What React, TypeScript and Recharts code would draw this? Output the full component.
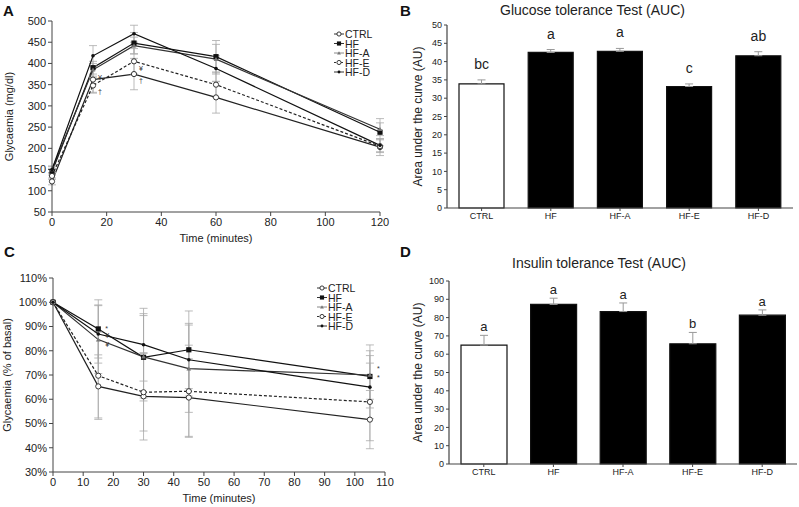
import React from 'react';
import {
  LineChart,
  Line,
  ComposedChart,
  Bar,
  Cell,
  Scatter,
  XAxis,
  YAxis,
  ErrorBar,
  Legend,
} from 'recharts';

const groups = ['CTRL', 'HF', 'HF-A', 'HF-E', 'HF-D'];

// Panel A - glucose tolerance curves (mg/dl)
const gttTimes = [0, 15, 30, 60, 120];
const gttCtrl = [122, 362, 375, 320, 203];
const gttHF = [145, 390, 448, 416, 238];
const gttHFA = [150, 385, 442, 410, 245];
const gttHFE = [135, 348, 405, 350, 205];
const gttHFD = [150, 418, 470, 388, 207];
const gttCtrlErr = [8, 30, 37, 37, 20];
const gttHFErr = [8, 15, 25, 38, 32];
const gttHFAErr = [8, 15, 20, 35, 15];
const gttHFEErr = [8, 18, 30, 30, 15];
const gttHFDErr = [8, 24, 20, 30, 15];
const gttNotes: Record<string, string[]> = {
  CTRL: ['', '¥', '†', '', ''],
  'HF-E': ['', '†', '¥', '', ''],
};

// Panel C - insulin tolerance curves (% of basal)
const ittTimes = [0, 15, 30, 45, 105];
const ittCtrl = [100, 65.3, 61.2, 60.7, 51.6];
const ittHF = [100, 89, 77.3, 80.4, 69.4];
const ittHFA = [100, 84.6, 77.5, 72.6, 70];
const ittHFE = [100, 69.7, 62.9, 63.3, 58.9];
const ittHFD = [100, 86.9, 82.5, 76.3, 65];
const ittCtrlErr = [0, 13, 18, 16, 12];
const ittHFErr = [0, 12, 18, 16, 13];
const ittHFAErr = [0, 14, 17, 18, 10];
const ittHFEErr = [0, 18, 16, 19, 16];
const ittHFDErr = [0, 12, 15, 15, 13];
const ittNotes: Record<string, string[]> = {
  HF: ['', '*', '', '', '*'],
  'HF-D': ['', '¥', '', '', ''],
  'HF-A': ['', '¥', '', '', '*'],
};

// Panels B and D - areas under the curve
const gttAuc = [33.9, 42.5, 42.8, 33.2, 41.6];
const gttAucErr = [1.1, 0.8, 0.8, 0.7, 1.1];
const gttLetters = ['bc', 'a', 'a', 'c', 'ab'];
const ittAuc = [65, 87.2, 83.3, 65.7, 81.3];
const ittAucErr = [5.3, 3.4, 4.7, 6.2, 2.9];
const ittLetters = ['a', 'a', 'a', 'b', 'a'];

const FONT = '"Liberation Sans", Arial, Helvetica, sans-serif';
const AXIS = '#444';
const TXT = '#222';

// vertical nudges (px) of the small significance marks, per series and point
const gttNoteDy: Record<string, number[]> = {
  CTRL: [0, -2, 6, 0, 0],
  'HF-E': [0, 6, 7, 0, 0],
};
const ittNoteDy: Record<string, number[]> = {
  HF: [0, 0, 0, 0, 1],
  'HF-D': [0, 1, 0, 0, 0],
  'HF-A': [0, 5, 0, 0, -7],
};

const seriesStyle: Record<string, { marker: string; dash?: string; color: string }> = {
  CTRL: { marker: 'circle', color: '#222' },
  HF: { marker: 'square', color: '#111' },
  'HF-A': { marker: 'tri', color: '#333' },
  'HF-E': { marker: 'circle', dash: '3 2', color: '#222' },
  'HF-D': { marker: 'dot', color: '#111' },
};

function buildRows(times: number[], values: number[][], errs: number[][]) {
  return times.map((t, i) => {
    const row: any = { t };
    groups.forEach((g, k) => {
      row[g] = values[k][i];
      row[`${g}_err`] = errs[k][i];
    });
    return row;
  });
}

const gttRows = buildRows(
  gttTimes,
  [gttCtrl, gttHF, gttHFA, gttHFE, gttHFD],
  [gttCtrlErr, gttHFErr, gttHFAErr, gttHFEErr, gttHFDErr]
);
const ittRows = buildRows(
  ittTimes,
  [ittCtrl, ittHF, ittHFA, ittHFE, ittHFD],
  [ittCtrlErr, ittHFErr, ittHFAErr, ittHFEErr, ittHFDErr]
);

const aucRows = (vals: number[], errs: number[], letters: string[]) =>
  groups.map((g, i) => ({
    group: g,
    auc: vals[i],
    err: [0, errs[i]],
    top: vals[i] + errs[i],
    letter: letters[i],
  }));

const Marker = ({ cx, cy, kind, s = 1 }: any) => {
  if (cx == null || cy == null) return null;
  if (kind === 'circle')
    return <circle cx={cx} cy={cy} r={2.6 * s} fill="#fff" stroke="#222" strokeWidth={0.9} />;
  if (kind === 'square')
    return <rect x={cx - 2.6 * s} y={cy - 2.6 * s} width={5.2 * s} height={5.2 * s} fill="#111" />;
  if (kind === 'tri')
    return (
      <path
        d={`M${cx - 2.4 * s},${cy + 1.8 * s}L${cx + 2.4 * s},${cy + 1.8 * s}L${cx},${cy - 2.2 * s}Z`}
        fill="#777"
      />
    );
  return <circle cx={cx} cy={cy} r={1.8 * s} fill="#111" />;
};

const LegendList = () => (
  <svg width={72} height={54} style={{ display: 'block', overflow: 'visible' }}>
    {groups.map((g, i) => {
      const st = seriesStyle[g];
      const y = 7 + i * 9.5;
      return (
        <g key={g}>
          <line x1={1} x2={11} y1={y} y2={y} stroke={g === 'HF-A' ? '#888' : '#333'} strokeDasharray={st.dash ? '2 1.5' : undefined} />
          <Marker cx={6} cy={y} kind={st.marker} s={0.8} />
          <text x={12} y={y} dominantBaseline="central" fontSize={10.5} fill={TXT}>
            {g}
          </text>
        </g>
      );
    })}
  </svg>
);

interface TimeCourseProps {
  rows: any[];
  notes: Record<string, string[]>;
  noteDy: Record<string, number[]>;
  noteDx: number;
  width: number;
  height: number;
  margin: { top: number; right: number; bottom: number; left: number };
  yWidth: number;
  xDomain: [number, number];
  xTicks: number[];
  yDomain: [number, number];
  yTicks: number[];
  yFormat?: (v: number) => string;
  yTitle: string;
  titleOffset: number;
  legendPos: { left: number; top: number };
}

const TimeCourse: React.FC<TimeCourseProps> = (props) => {
  const { rows, notes, noteDy } = props;
  return (
    <LineChart width={props.width} height={props.height} data={rows} margin={props.margin}>
      <XAxis
        dataKey="t"
        type="number"
        domain={props.xDomain}
        ticks={props.xTicks}
        interval={0}
        height={30}
        axisLine={{ stroke: AXIS }}
        tickLine={{ stroke: AXIS }}
        tickSize={4}
        tick={{ fontSize: 11, fill: TXT }}
        label={{ value: 'Time (minutes)', position: 'insideBottom', offset: 0, fontSize: 11, fill: TXT }}
      />
      <YAxis
        type="number"
        width={props.yWidth}
        domain={props.yDomain}
        ticks={props.yTicks}
        interval={0}
        tickFormatter={props.yFormat}
        axisLine={{ stroke: AXIS }}
        tickLine={{ stroke: AXIS }}
        tickSize={4}
        tick={{ fontSize: 11, fill: TXT }}
        label={{
          value: props.yTitle,
          angle: -90,
          position: 'insideLeft',
          offset: props.titleOffset,
          fontSize: 11,
          fill: TXT,
          style: { textAnchor: 'middle' },
        }}
      />
      <Legend
        layout="vertical"
        align="center"
        verticalAlign="middle"
        content={<LegendList />}
        wrapperStyle={{ left: props.legendPos.left, top: props.legendPos.top, width: 72 }}
      />
      {groups.map((g) => {
        const st = seriesStyle[g];
        return (
          <Line
            key={g}
            dataKey={g}
            type="linear"
            stroke={st.color}
            strokeWidth={1.2}
            strokeDasharray={st.dash}
            isAnimationActive={false}
            dot={(p: any) => {
              const note = notes[g]?.[p.index];
              const dy = noteDy[g]?.[p.index] ?? 0;
              return (
                <g key={`${g}-${p.index}`}>
                  <Marker cx={p.cx} cy={p.cy} kind={st.marker} />
                  {note ? (
                    <text
                      x={p.cx + props.noteDx}
                      y={p.cy + dy}
                      fontSize={7}
                      fill="#333"
                      dominantBaseline="central"
                    >
                      {note}
                    </text>
                  ) : null}
                </g>
              );
            }}
            activeDot={false}
          >
            <ErrorBar dataKey={`${g}_err`} direction="y" width={4} stroke="#aaa" strokeWidth={0.8} />
          </Line>
        );
      })}
    </LineChart>
  );
};

interface AucProps {
  rows: any[];
  width: number;
  height: number;
  margin: { top: number; right: number; bottom: number; left: number };
  yWidth: number;
  yTicks: number[];
  yMax: number;
  barSize: number;
  letterSize: number;
  letterGap: number;
}

const AucChart: React.FC<AucProps> = (p) => (
  <ComposedChart width={p.width} height={p.height} data={p.rows} margin={p.margin}>
    <XAxis
      dataKey="group"
      height={20}
      axisLine={{ stroke: AXIS, strokeWidth: 1.2 }}
      tickLine={{ stroke: AXIS }}
      tickSize={3}
      tick={{ fontSize: 9, fill: TXT }}
    />
    <YAxis
      type="number"
      width={p.yWidth}
      domain={[0, p.yMax]}
      ticks={p.yTicks}
      interval={0}
      axisLine={{ stroke: AXIS, strokeWidth: 1.2 }}
      tickLine={{ stroke: AXIS }}
      tickSize={3}
      tick={{ fontSize: 9, fill: TXT }}
      label={{
        value: 'Area under the curve (AU)',
        angle: -90,
        position: 'insideLeft',
        offset: 8,
        fontSize: 12,
        fill: TXT,
        style: { textAnchor: 'middle' },
      }}
    />
    <Bar dataKey="auc" barSize={p.barSize} isAnimationActive={false}>
      {p.rows.map((r) => (
        <Cell
          key={r.group}
          fill={r.group === 'CTRL' ? '#fff' : '#000'}
          stroke="#111"
          strokeWidth={1.2}
        />
      ))}
      <ErrorBar dataKey="err" direction="y" width={4} stroke="#999" strokeWidth={1} />
    </Bar>
    <Scatter
      dataKey="top"
      isAnimationActive={false}
      shape={(s: any) => (
        <text x={s.cx} y={s.cy - p.letterGap} textAnchor="middle" fontSize={p.letterSize} fill={TXT}>
          {s.payload.letter}
        </text>
      )}
    />
  </ComposedChart>
);

const panelLetter = (ch: string, left: number, top: number) => (
  <div style={{ position: 'absolute', left, top, fontSize: 15, fontWeight: 'bold', color: '#111', lineHeight: '16px' }}>
    {ch}
  </div>
);

const title = (txt: string, left: number, top: number) => (
  <div style={{ position: 'absolute', left, top, fontSize: 14, color: TXT, lineHeight: '16px', whiteSpace: 'nowrap' }}>
    {txt}
  </div>
);

export default function App() {
  return (
    <div
      style={{
        position: 'absolute',
        left: 0,
        top: 0,
        width: 799,
        height: 507,
        background: '#fff',
        fontFamily: FONT,
        overflow: 'hidden',
      }}
    >
      <div style={{ position: 'absolute', left: 0, top: 0 }}>
        <TimeCourse
          rows={gttRows}
          notes={gttNotes}
          noteDy={gttNoteDy}
          noteDx={5}
          width={400}
          height={250}
          margin={{ top: 21, right: 20, bottom: 8, left: 8 }}
          yWidth={44}
          xDomain={[0, 120]}
          xTicks={[0, 20, 40, 60, 80, 100, 120]}
          yDomain={[50, 500]}
          yTicks={[50, 100, 150, 200, 250, 300, 350, 400, 450, 500]}
          yTitle="Glycaemia (mg/dl)"
          titleOffset={1}
          legendPos={{ left: 333, top: 27 }}
        />
      </div>
      <div style={{ position: 'absolute', left: 0, top: 250 }}>
        <TimeCourse
          rows={ittRows}
          notes={ittNotes}
          noteDy={ittNoteDy}
          noteDx={7}
          width={400}
          height={257}
          margin={{ top: 28, right: 15, bottom: 5, left: 6 }}
          yWidth={47}
          xDomain={[0, 110]}
          xTicks={[0, 10, 20, 30, 40, 50, 60, 70, 80, 90, 100, 110]}
          yDomain={[30, 110]}
          yTicks={[30, 40, 50, 60, 70, 80, 90, 100, 110]}
          yFormat={(v: number) => `${v}%`}
          yTitle="Glycaemia (% of basal)"
          titleOffset={1}
          legendPos={{ left: 316, top: 31 }}
        />
      </div>
      <div style={{ position: 'absolute', left: 400, top: 0 }}>
        <AucChart
          rows={aucRows(gttAuc, gttAucErr, gttLetters)}
          width={399}
          height={250}
          margin={{ top: 25, right: 6, bottom: 22, left: 10 }}
          yWidth={37}
          yTicks={[0, 5, 10, 15, 20, 25, 30, 35, 40, 45, 50]}
          yMax={50}
          barSize={45}
          letterSize={14}
          letterGap={11}
        />
      </div>
      <div style={{ position: 'absolute', left: 400, top: 250 }}>
        <AucChart
          rows={aucRows(ittAuc, ittAucErr, ittLetters)}
          width={399}
          height={257}
          margin={{ top: 31, right: 2, bottom: 23, left: 10 }}
          yWidth={39}
          yTicks={[0, 10, 20, 30, 40, 50, 60, 70, 80, 90, 100]}
          yMax={100}
          barSize={46}
          letterSize={13}
          letterGap={4}
        />
      </div>
      {panelLetter('A', 3, 3)}
      {panelLetter('B', 400, 3)}
      {panelLetter('C', 4, 244)}
      {panelLetter('D', 400, 244)}
      {title('Glucose tolerance Test (AUC)', 500, 2)}
      {title('Insulin tolerance Test (AUC)', 512, 255)}
    </div>
  );
}
